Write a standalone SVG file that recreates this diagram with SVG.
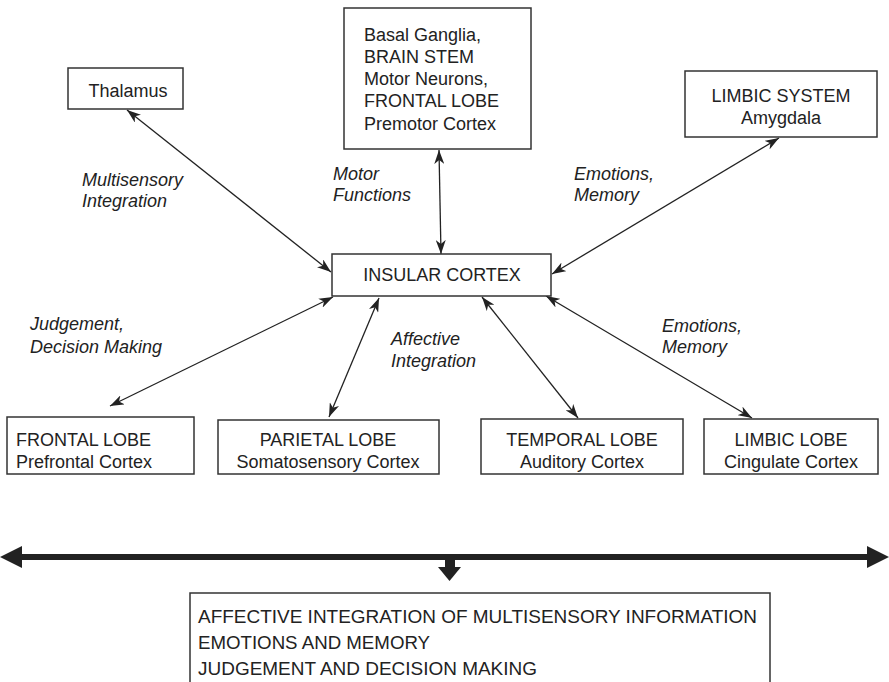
<svg xmlns="http://www.w3.org/2000/svg" width="889" height="682" viewBox="0 0 889 682">
<style>
.box{fill:#fff;stroke:#333;stroke-width:1.5}
text{font-family:"Liberation Sans",Arial,sans-serif;font-size:18px;fill:#222}
.c{text-anchor:middle}
.i{font-style:italic}
.ln{stroke:#222;stroke-width:1.3;fill:none;marker-start:url(#ah);marker-end:url(#ah)}
</style>
<defs>
<marker id="ah" viewBox="0 0 14 10" refX="14" refY="5" markerWidth="14" markerHeight="10" markerUnits="userSpaceOnUse" orient="auto-start-reverse">
<path d="M0,0 L14,5 L0,10 L4,5 z" fill="#222"/>
</marker>
</defs>
<rect width="889" height="682" fill="#fff"/>
<g id="connectors">
<line class="ln" x1="127" y1="110" x2="331" y2="272"/>
<line class="ln" x1="439" y1="150" x2="441" y2="254"/>
<line class="ln" x1="779" y1="138" x2="552" y2="274"/>
<line class="ln" x1="333" y1="297" x2="110" y2="406"/>
<line class="ln" x1="379" y1="298" x2="329" y2="417"/>
<line class="ln" x1="482" y1="297" x2="578" y2="418"/>
<line class="ln" x1="546" y1="296" x2="752" y2="418"/>
<text class="i" x="82" y="186">Multisensory</text>
<text class="i" x="82" y="207">Integration</text>
<text class="i" x="333" y="180">Motor</text>
<text class="i" x="333" y="201">Functions</text>
<text class="i" x="574" y="180">Emotions,</text>
<text class="i" x="574" y="201">Memory</text>
<text class="i" x="30" y="330">Judgement,</text>
<text class="i" x="30" y="353">Decision Making</text>
<text class="i" x="391" y="345">Affective</text>
<text class="i" x="391" y="367">Integration</text>
<text class="i" x="662" y="332">Emotions,</text>
<text class="i" x="662" y="353">Memory</text>
</g>
<g id="thalamus">
<rect class="box" x="68" y="68" width="115" height="41"/>
<text class="c" x="128" y="97">Thalamus</text>
</g>
<g id="basal">
<rect class="box" x="344" y="8" width="187" height="141"/>
<text x="364" y="41">Basal Ganglia,</text>
<text x="364" y="63">BRAIN STEM</text>
<text x="364" y="85">Motor Neurons,</text>
<text x="364" y="107">FRONTAL LOBE</text>
<text x="364" y="130">Premotor Cortex</text>
</g>
<g id="limbic-system">
<rect class="box" x="685" y="71" width="192" height="66"/>
<text class="c" x="781" y="102">LIMBIC SYSTEM</text>
<text class="c" x="781" y="124">Amygdala</text>
</g>
<g id="insular">
<rect class="box" x="332" y="254" width="219" height="42"/>
<text class="c" x="442" y="281">INSULAR CORTEX</text>
</g>
<g id="frontal">
<rect class="box" x="7" y="417" width="187" height="57"/>
<text x="16" y="446">FRONTAL LOBE</text>
<text x="16" y="468">Prefrontal Cortex</text>
</g>
<g id="parietal">
<rect class="box" x="218" y="420" width="221" height="54"/>
<text class="c" x="328" y="446">PARIETAL LOBE</text>
<text class="c" x="328" y="468">Somatosensory Cortex</text>
</g>
<g id="temporal">
<rect class="box" x="481" y="419" width="202" height="55"/>
<text class="c" x="582" y="446">TEMPORAL LOBE</text>
<text class="c" x="582" y="468">Auditory Cortex</text>
</g>
<g id="limbic-lobe">
<rect class="box" x="704" y="419" width="174" height="55"/>
<text class="c" x="791" y="446">LIMBIC LOBE</text>
<text class="c" x="791" y="468">Cingulate Cortex</text>
</g>
<g id="bar">
<rect x="18" y="554" width="853" height="6" fill="#222"/>
<polygon points="0,557 22,546 22,568" fill="#222"/>
<polygon points="889,557 867,546 867,568" fill="#222"/>
<rect x="445" y="557" width="10" height="11" fill="#222"/>
<polygon points="438,567 461,567 449.5,581" fill="#222"/>
</g>
<g id="summary">
<rect class="box" x="190" y="593" width="580" height="100"/>
<text x="198" y="623" font-size="19" textLength="559" lengthAdjust="spacingAndGlyphs" style="font-size:19px">AFFECTIVE INTEGRATION OF MULTISENSORY INFORMATION</text>
<text x="198" y="649" style="font-size:19px" textLength="232" lengthAdjust="spacingAndGlyphs">EMOTIONS AND MEMORY</text>
<text x="198" y="675" style="font-size:19px" textLength="339" lengthAdjust="spacingAndGlyphs">JUDGEMENT AND DECISION MAKING</text>
</g>
</svg>
